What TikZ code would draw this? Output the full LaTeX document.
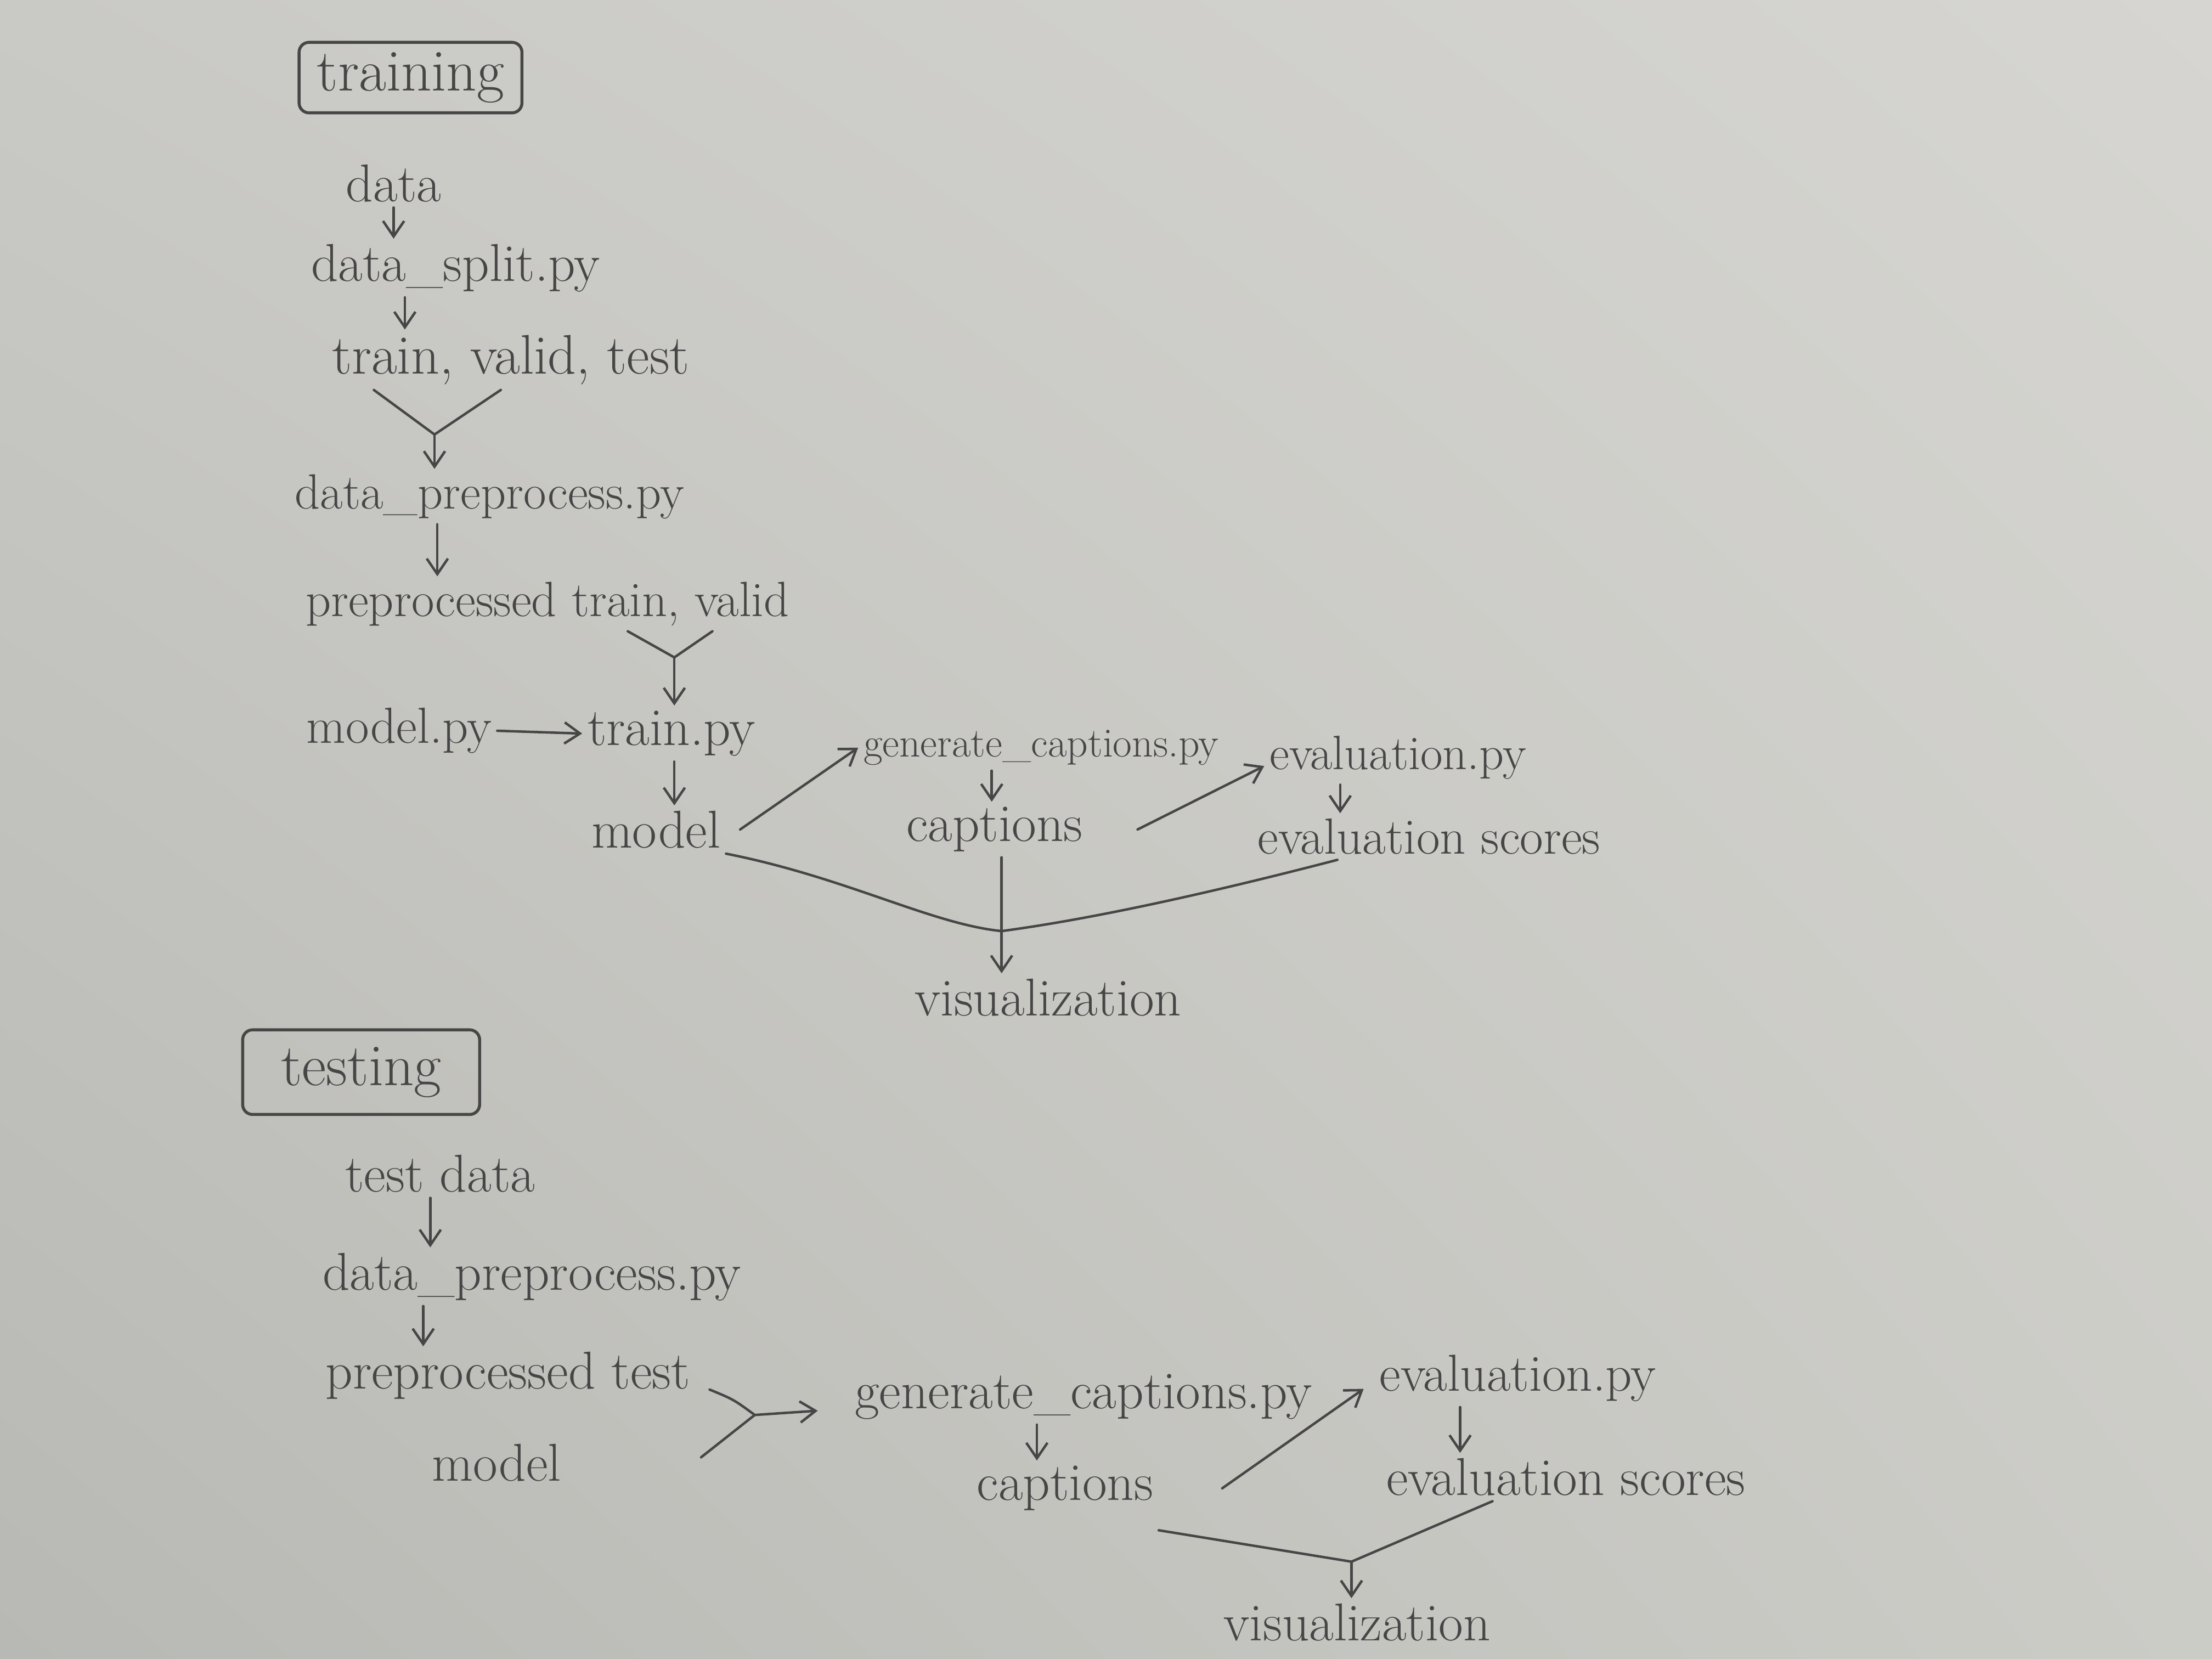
\documentclass[tikz,border=0pt]{standalone}
\usetikzlibrary{arrows.meta,calc,shadings}
\definecolor{pencil}{RGB}{70,70,70}
\definecolor{pTL}{RGB}{201,201,197}
\definecolor{pTR}{RGB}{214,213,209}
\definecolor{pBL}{RGB}{184,184,180}
\definecolor{pBR}{RGB}{204,204,199}
\begin{document}
\begin{tikzpicture}[x=0.02cm,y=-0.02cm,
  lbl/.style={text=pencil, font=\fontsize{21.5}{25}\selectfont, inner sep=2pt},
  fs/.style={font=\fontsize{#1}{#1}\selectfont},
  hbox/.style={draw=pencil, line width=1.2pt, rounded corners=4pt, font=\fontsize{24}{28}\selectfont},
  ln/.style={draw=pencil, line width=1pt, line cap=round},
  arr/.style={draw=pencil, line width=1pt, line cap=round, -{Straight Barb[length=2.2mm,width=3mm]}}]
\shade[upper left=pTL, upper right=pTR, lower left=pBL, lower right=pBR] (0,0) rectangle (1568,1176);
\useasboundingbox (0,0) rectangle (1568,1176);

% ---------------- training ----------------
\node[lbl, hbox, minimum width=3.16cm, minimum height=1cm] (trbox) at (291,55) {training};
\node[lbl] (data)   at (279,130) {data};
\node[lbl] (split)  at (323,190) {data\_split.py};
\node[lbl, fs=22.5] (tvt) at (362,255) {train, valid, test};
\node[lbl, fs=20] (dpp)    at (347,352) {data\_preprocess.py};
\node[lbl, fs=20] (ptv)    at (388,428) {preprocessed train, valid};
\node[lbl, fs=20.5] (modelpy) at (283,518) {model.py};
\node[lbl] (train)  at (476,520) {train.py};
\node[lbl] (model)  at (465,588) {model};
\node[lbl, fs=16.7] (gen) at (738,530) {generate\_captions.py};
\node[lbl] (caps)   at (705,588) {captions};
\node[lbl, fs=19.5] (eval)   at (991,537) {evaluation.py};
\node[lbl, fs=20.5] (evs)    at (1013,593) {evaluation scores};
\node[lbl] (vis)    at (743,707) {visualization};

\coordinate (m1) at (308,308);
\coordinate (m2) at (478,466);
\coordinate (j1) at (710,660);

\draw[arr] (data.south) -- (data.south |- split.north);
\draw[arr] (split.south -| 287,0) -- (tvt.north -| 287,0);
\draw[ln] (tvt.south -| 265,0) -- (m1);
\draw[ln] (tvt.south -| 355,0) -- (m1);
\draw[arr] (m1) -- (m1 |- dpp.north);
\draw[arr] (dpp.south -| 310,0) -- (ptv.north -| 310,0);
\draw[ln] (ptv.south -| 445,0) -- (m2);
\draw[ln] (ptv.south -| 505,0) -- (m2);
\draw[arr] (m2) -- (m2 |- train.north);
\draw[arr] (modelpy.east) -- (train.west);
\draw[arr] (train.south -| 478,0) -- (model.north -| 478,0);
\draw[arr] ([xshift=0.2cm]model.east) -- (gen.west);
\draw[arr] (gen.south -| 703,0) -- (caps.north -| 703,0);
\draw[arr] ([xshift=0.7cm]caps.east) -- ([yshift=-0.12cm]eval.west);
\draw[arr] (eval.south -| 950,0) -- (evs.north -| 950,0);
\draw[ln] (model.south east) .. controls (600,622) and (660,655) .. (j1);
\draw[ln] (evs.south -| 948,0) .. controls (850,635) and (770,652) .. (j1);
\draw[ln] (caps.south -| j1) -- (j1);
\draw[arr] (j1) -- (j1 |- vis.north);

% ---------------- testing ----------------
\node[lbl, hbox, minimum width=3.36cm, minimum height=1.2cm] (tsbox) at (256,760) {testing};
\node[lbl] (tdata)  at (312,832) {test data};
\node[lbl] (tdpp)   at (377,905) {data\_preprocess.py};
\node[lbl] (tpt)    at (360,975) {preprocessed test};
\node[lbl] (tmodel) at (352,1037) {model};
\node[lbl] (tgen)   at (768,990) {generate\_captions.py};
\node[lbl] (tcaps)  at (755,1055) {captions};
\node[lbl, fs=21] (teval)  at (1076,977) {evaluation.py};
\node[lbl] (tevs)   at (1110,1047) {evaluation scores};
\node[lbl] (tvis)   at (962,1150) {visualization};

\coordinate (j2) at (535,1003);
\coordinate (j3) at (958,1107);
\coordinate (tm1) at (503,985);
\coordinate (tm2) at (497,1033);

\draw[arr] (tdata.south -| 305,0) -- (tdpp.north -| 305,0);
\draw[arr] (tdpp.south -| 300,0) -- (tpt.north -| 300,0);
\draw[ln] (tm1) .. controls (520,992) .. (j2);
\draw[ln] (tm2) -- (j2);
\draw[arr] (j2) -- ([xshift=-0.45cm,yshift=-0.2cm]tgen.west);
\draw[arr] (tgen.south -| 735,0) -- (tcaps.north -| 735,0);
\draw[arr] ([xshift=0.9cm]tcaps.east) -- ([xshift=-0.15cm,yshift=-0.15cm]teval.west);
\draw[arr] (teval.south -| 1035,0) -- (tevs.north -| 1035,0);
\draw[ln] ([yshift=-0.2cm]tcaps.south east) -- (j3);
\draw[ln] (tevs.south -| 1058,0) -- (j3);
\draw[arr] (j3) -- (j3 |- tvis.north);
\end{tikzpicture}
\end{document}
